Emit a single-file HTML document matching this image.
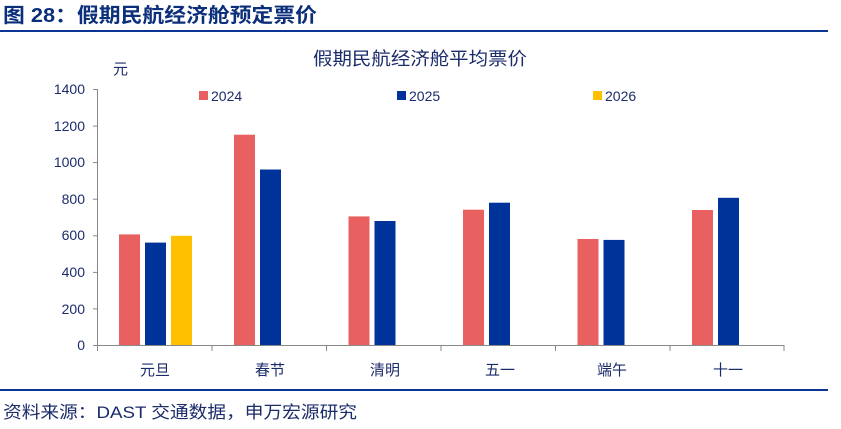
<!DOCTYPE html>
<html><head><meta charset="utf-8"><style>
html,body{margin:0;padding:0;background:#fff;width:841px;height:429px;overflow:hidden}
svg text{font-family:"Liberation Sans","Noto Sans CJK SC",sans-serif}
</style></head><body>
<svg width="841" height="429" xmlns="http://www.w3.org/2000/svg">
<text x="3" y="22" font-size="20" font-weight="bold" fill="#0b2f7a" textLength="314" lengthAdjust="spacingAndGlyphs">图 28：假期民航经济舱预定票价</text>
<rect x="0" y="30" width="828" height="2" fill="#0b3592"/>
<text x="313" y="65" font-size="18" fill="#1b2c6b" textLength="214" lengthAdjust="spacingAndGlyphs">假期民航经济舱平均票价</text>
<text x="113" y="74" font-size="15" fill="#1b2c6b">元</text>
<!-- legend -->
<rect x="199" y="91" width="9" height="9" fill="#E8605F"/><text x="211" y="101" font-size="14" fill="#1b2c6b">2024</text>
<rect x="397" y="91" width="9" height="9" fill="#003399"/><text x="409" y="101" font-size="14" fill="#1b2c6b">2025</text>
<rect x="593" y="91" width="9" height="9" fill="#FFC000"/><text x="605" y="101" font-size="14" fill="#1b2c6b">2026</text>
<!-- y axis -->
<g font-size="14" text-anchor="end" fill="#1b2c6b">
<text x="85" y="350">0</text><text x="85" y="314">200</text><text x="85" y="277">400</text>
<text x="85" y="240">600</text><text x="85" y="204">800</text><text x="85" y="167">1000</text>
<text x="85" y="131">1200</text><text x="85" y="94">1400</text>
</g>
<g stroke="#888" stroke-width="1">
<line x1="97.5" y1="89" x2="97.5" y2="345"/>
<line x1="93" y1="345.5" x2="97" y2="345.5"/><line x1="93" y1="308.9" x2="97" y2="308.9"/>
<line x1="93" y1="272.4" x2="97" y2="272.4"/><line x1="93" y1="235.8" x2="97" y2="235.8"/>
<line x1="93" y1="199.2" x2="97" y2="199.2"/><line x1="93" y1="162.6" x2="97" y2="162.6"/>
<line x1="93" y1="126.1" x2="97" y2="126.1"/><line x1="93" y1="89.5" x2="97" y2="89.5"/>
<line x1="97" y1="345.5" x2="784" y2="345.5"/>
<line x1="97.5" y1="345" x2="97.5" y2="351"/><line x1="212" y1="345" x2="212" y2="351"/>
<line x1="326.5" y1="345" x2="326.5" y2="351"/><line x1="441" y1="345" x2="441" y2="351"/>
<line x1="555.5" y1="345" x2="555.5" y2="351"/><line x1="670" y1="345" x2="670" y2="351"/>
<line x1="784" y1="345" x2="784" y2="351"/>
</g>
<!-- bars -->
<g fill="#E8605F">
<rect x="119" y="234.4" width="21" height="110.6"/>
<rect x="234" y="134.7" width="21" height="210.3"/>
<rect x="348.5" y="216.4" width="21" height="128.6"/>
<rect x="463" y="209.7" width="21" height="135.3"/>
<rect x="577.5" y="239" width="21" height="106"/>
<rect x="692" y="210" width="21" height="135"/>
</g>
<g fill="#003399">
<rect x="145" y="242.6" width="21" height="102.4"/>
<rect x="260" y="169.5" width="21" height="175.5"/>
<rect x="374.5" y="221" width="21" height="124"/>
<rect x="489" y="202.7" width="21" height="142.3"/>
<rect x="603.5" y="239.9" width="21" height="105.1"/>
<rect x="718" y="197.8" width="21" height="147.2"/>
</g>
<rect x="171" y="235.8" width="21" height="109.2" fill="#FFC000"/>
<g font-size="15" text-anchor="middle" fill="#1b2c6b">
<text x="155" y="375">元旦</text><text x="270" y="375">春节</text><text x="385" y="375">清明</text>
<text x="500" y="375">五一</text><text x="612" y="375">端午</text><text x="728" y="375">十一</text>
</g>
<rect x="0" y="389" width="828" height="2" fill="#0b3592"/>
<text x="3" y="418" font-size="17" fill="#1b2c6b" textLength="354" lengthAdjust="spacingAndGlyphs">资料来源：DAST 交通数据，申万宏源研究</text>
</svg>
</body></html>
